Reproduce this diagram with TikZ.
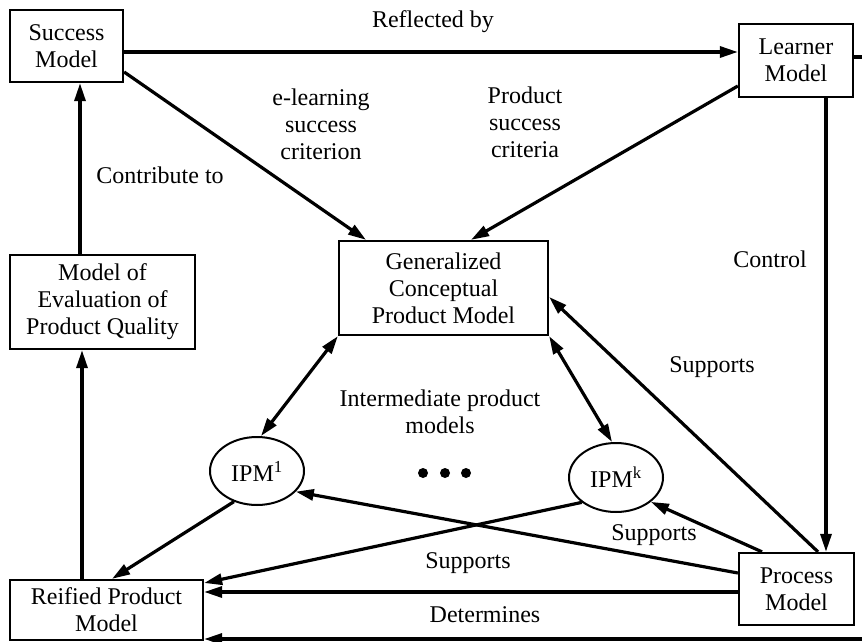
\documentclass[tikz,border=0pt]{standalone}
\usepackage{fontspec}
\setmainfont{Liberation Serif}
\usetikzlibrary{arrows.meta,shapes.geometric}
\tikzset{
  every node/.style={font=\fontsize{24}{27}\selectfont, inner sep=0pt, align=center},
  boxnode/.style={draw, line width=2.3pt, rectangle},
  ellnode/.style={draw, line width=2pt, ellipse},
  conn/.style={line width=3.2pt, -{Triangle[length=18pt,width=11pt]}},
  bconn/.style={line width=3.2pt, {Triangle[length=18pt,width=11pt]}-{Triangle[length=18pt,width=11pt]}},
  lbl/.style={}
}
\begin{document}
\begin{tikzpicture}[x=1pt,y=-1pt]
\useasboundingbox (0,0) rectangle (862,642);
% nodes
\node[boxnode, minimum width=113pt, minimum height=72pt] (sm) at (66.5,46) {Success\\Model};
\node[boxnode, minimum width=114pt, minimum height=73pt] (lm) at (796,60.5) {Learner\\Model};
\node[boxnode, minimum width=209pt, minimum height=94pt] (gc) at (443.5,288) {Generalized\\Conceptual\\Product Model};
\node[boxnode, minimum width=185pt, minimum height=94pt] (me) at (102.5,302) {Model of\\Evaluation of\\Product Quality};
\node[ellnode, minimum width=94pt, minimum height=68pt] (ipm1) at (257,471) {IPM\textsuperscript{1}};
\node[ellnode, minimum width=94pt, minimum height=69pt] (ipmk) at (616,477.5) {IPM\textsuperscript{k}};
\node[boxnode, minimum width=193pt, minimum height=60pt] (rp) at (106.5,610) {Reified Product\\Model};
\node[boxnode, minimum width=115pt, minimum height=72pt] (pm) at (796.5,589) {Process\\Model};
% dots
\fill (423,473) circle (5pt) (445,473) circle (5pt) (466,473) circle (5pt);
% labels
\node[lbl] (l1) at (433,22) {Reflected by};
\node[lbl] (l2) at (321,124) {e-learning\\success\\criterion};
\node[lbl] (l3) at (525,122) {Product\\success\\criteria};
\node[lbl] (l4) at (160,175) {Contribute to};
\node[lbl] (l5) at (770,259) {Control};
\node[lbl] (l6) at (712,367) {Supports};
\node[lbl] (l7) at (440,412) {Intermediate product\\models};
\node[lbl] (l8) at (654,535) {Supports};
\node[lbl] (l9) at (468,563) {Supports};
\node[lbl] (l10) at (485,615) {Determines};
% connectors
\draw[conn] ([yshift=-6pt]sm.east) -- ([yshift=8.5pt]lm.west);
\draw[conn] ([yshift=-26pt]sm.east) -- ([xshift=-77.5pt]gc.north);
\draw[conn] ([yshift=-25.5pt]lm.west) -- ([xshift=27.5pt]gc.north);
\draw[conn] ([xshift=-22.5pt]me.north) -- ([xshift=13.5pt]sm.south);
\draw[conn] ([xshift=-24.5pt]rp.north) -- ([xshift=-20.5pt]me.south);
\draw[conn] ([xshift=30pt]lm.south) -- ([xshift=29.5pt]pm.north);
\draw[conn] ([xshift=21.5pt]pm.north) -- ([yshift=-9pt]gc.east);
\draw[bconn] (gc.south west) -- ([xshift=4pt]ipm1.north);
\draw[bconn] (gc.south east) -- ([xshift=-4pt]ipmk.north);
\draw[conn] (ipm1.233) -- ([xshift=5.5pt]rp.north);
\draw[conn] (ipmk.216) -- ([yshift=27pt]rp.east);
\draw[conn] ([yshift=16pt]pm.west) -- (ipm1.332);
\draw[conn] ([xshift=-34.5pt]pm.north) -- (ipmk.325);
\draw[conn] ([yshift=-3pt]pm.west) -- ([yshift=18pt]rp.east);
\coordinate (c1) at (880,57);
\coordinate (c2) at (880,639);
\draw[conn] ([yshift=3.5pt]lm.east) -- (c1) -- (c2) -- ([yshift=-29pt]rp.east);
\end{tikzpicture}
\end{document}
